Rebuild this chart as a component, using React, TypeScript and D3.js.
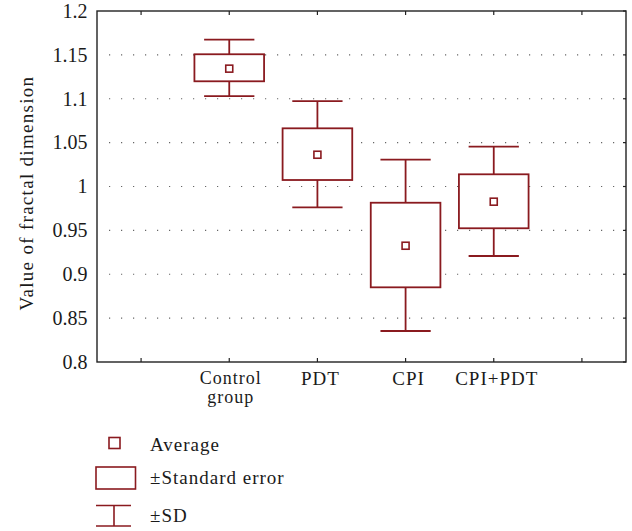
import React from "react";
import * as d3 from "d3";

const categories = ["", "Control group", "PDT", "CPI", "CPI+PDT", ""];
const groups = ["Control group", "PDT", "CPI", "CPI+PDT"];
const means = [1.1343, 1.0362, 0.9325, 0.9827];
const seLow = [1.1199, 1.0074, 0.8851, 0.9524];
const seHigh = [1.1507, 1.0663, 0.9815, 1.0139];
const sdLow = [1.1031, 0.9763, 0.8353, 0.9208];
const sdHigh = [1.1673, 1.0974, 1.0306, 1.0454];
const yTicks = [0.8, 0.85, 0.9, 0.95, 1, 1.05, 1.1, 1.15, 1.2];

const W = 632;
const H = 531;
const M = { left: 97, top: 11, right: 626, bottom: 362 };
const RED = "#8a1a1f";
const FONT = "Liberation Serif";
const TXT = "#1a1a1a";

export default function App() {
  const y = d3.scaleLinear().domain([0.8, 1.2]).range([M.bottom, M.top]);
  const x = d3
    .scalePoint<number>()
    .domain(d3.range(categories.length))
    .range([M.left, M.right])
    .padding(0.5);
  const step = x.step();
  const boxW = step * 0.79;
  const capW = step * 0.57;
  const lab = { fontFamily: FONT, letterSpacing: "1px" };

  return (
    <svg
      width={W}
      height={H}
      style={{ position: "absolute", left: 0, top: 0, background: "#fff", fontFamily: FONT }}
    >
      {/* gridlines */}
      {yTicks
        .filter((t) => t > 0.8 && t < 1.2)
        .map((t) => (
          <line
            key={"g" + t}
            x1={M.left + 12}
            x2={M.right}
            y1={y(t)}
            y2={y(t)}
            stroke="#666"
            strokeWidth={1.2}
            strokeDasharray="1.2 10.8"
          />
        ))}
      {/* frame */}
      <rect
        x={M.left}
        y={M.top}
        width={M.right - M.left}
        height={M.bottom - M.top}
        fill="none"
        stroke="#222"
        strokeWidth={1.4}
      />
      {/* y ticks */}
      {yTicks.map((t) => (
        <g key={"yt" + t}>
          <line x1={M.right - 3} x2={M.right} y1={y(t)} y2={y(t)} stroke="#222" strokeWidth={1.2} />
          <text
            x={87.5}
            y={y(t)}
            dy="0.34em"
            textAnchor="end"
            fontSize={20}
            fill={TXT}
            style={{ fontFamily: FONT }}
          >
            {d3.format("")(t)}
          </text>
        </g>
      ))}
      {/* x ticks */}
      {categories.map((c, i) => (
        <g key={"xt" + i}>
          <line x1={x(i)} x2={x(i)} y1={M.top} y2={M.top + 4} stroke="#222" strokeWidth={1.2} />
          <line x1={x(i)} x2={x(i)} y1={M.bottom} y2={M.bottom - 4} stroke="#222" strokeWidth={1.2} />
          {c === "Control group" ? (
            <text x={(x(i) as number) + 1.5} textAnchor="middle" fontSize={18} fill={TXT} style={lab}>
              <tspan x={(x(i) as number) + 1.5} y={384}>Control</tspan>
              <tspan x={(x(i) as number) + 1.5} y={403}>group</tspan>
            </text>
          ) : (
            <text x={(x(i) as number) + 3} y={385} textAnchor="middle" fontSize={19} fill={TXT} style={lab}>
              {c}
            </text>
          )}
        </g>
      ))}
      {/* y label */}
      <text
        transform={`translate(33, 193) rotate(-90)`}
        textAnchor="middle"
        fontSize={19}
        fill={TXT}
        style={{ fontFamily: FONT, letterSpacing: "1.3px" }}
      >
        Value of fractal dimension
      </text>
      {/* boxes */}
      {groups.map((g, k) => {
        const cx = x(k + 1) as number;
        return (
          <g key={g} stroke={RED} strokeWidth={1.8} fill="none">
            <line x1={cx} x2={cx} y1={y(sdHigh[k])} y2={y(seHigh[k])} />
            <line x1={cx} x2={cx} y1={y(seLow[k])} y2={y(sdLow[k])} />
            <line x1={cx - capW / 2} x2={cx + capW / 2} y1={y(sdHigh[k])} y2={y(sdHigh[k])} />
            <line x1={cx - capW / 2} x2={cx + capW / 2} y1={y(sdLow[k])} y2={y(sdLow[k])} />
            <rect
              x={cx - boxW / 2}
              y={y(seHigh[k])}
              width={boxW}
              height={y(seLow[k]) - y(seHigh[k])}
              fill="#fff"
            />
            <rect x={cx - 3.5} y={y(means[k]) - 3.5} width={7} height={7} fill="#fff" strokeWidth={1.6} />
          </g>
        );
      })}
      {/* legend */}
      <g stroke={RED} strokeWidth={1.6} fill="none">
        <rect x={109} y={437.5} width={11} height={11} fill="#fff" />
        <rect x={96} y={467} width={39.5} height={22} fill="#fff" />
        <line x1={96} x2={131} y1={505.5} y2={505.5} />
        <line x1={96} x2={131} y1={526} y2={526} />
        <line x1={114} x2={114} y1={505.5} y2={526} />
      </g>
      <g fontSize={19} fill={TXT} style={lab}>
        <text x={150} y={450.5}>Average</text>
        <text x={150} y={484}>±Standard error</text>
        <text x={150} y={521.5}>±SD</text>
      </g>
    </svg>
  );
}
